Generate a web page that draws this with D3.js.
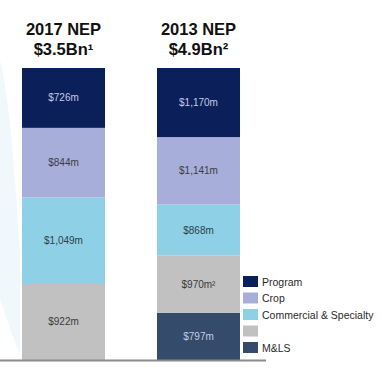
<!DOCTYPE html>
<html>
<head>
<meta charset="utf-8">
<script src="https://cdn.jsdelivr.net/npm/d3@7"></script>
<style>
  body { margin: 0; background: #fff; }
  text { font-family: "Liberation Sans", Arial, sans-serif; }
</style>
</head>
<body>
<div id="chart"></div>
<script>
// data
var categories = ["2017 NEP", "2013 NEP"];
var titles = ["$3.5Bn\u00b9", "$4.9Bn\u00b2"];
var seriesNames = ["Program", "Crop", "Commercial & Specialty", "", "M&LS"];
var seriesKeys = ["program", "crop", "commercial", "other", "mls"];
var program = [726, 1170];
var crop = [844, 1141];
var commercial = [1049, 868];
var other = [922, 970];
var mls = [0, 797];
var labelNotes = { "other": ["", "\u00b2"] };

var colors = {
  program: "#0b1f5b",
  crop: "#a8aeda",
  commercial: "#8ed1e6",
  other: "#c1c1c1",
  mls: "#344b6c"
};
var labelColors = {
  program: "#c3cbe3",
  crop: "#3b3b45",
  commercial: "#2f4048",
  other: "#3a3a3a",
  mls: "#c3cbe3"
};

var width = 388, height = 382;

var rows = categories.map(function(c, i) {
  return { cat: c, program: program[i], crop: crop[i], commercial: commercial[i], other: other[i], mls: mls[i] };
});

var svg = d3.select("#chart").append("svg")
    .attr("width", width)
    .attr("height", height);

// faint decoration on the left edge
svg.append("path")
    .attr("d", "M0,60 C12,110 16,200 20,250 L20,355 C10,330 4,310 0,300 Z")
    .attr("fill", "#f1f8fc");

var x = d3.scaleBand().domain(categories).range([22, 240]).paddingInner(0.385);
var y = d3.scaleLinear().domain([0, 1]).range([360, 68]);

// bottom first
var stack = d3.stack()
    .keys(seriesKeys.slice().reverse())
    .offset(d3.stackOffsetExpand);
var layers = stack(rows);

var fmt = d3.format(",");

var layer = svg.selectAll(".layer")
    .data(layers)
    .enter().append("g")
    .attr("class", "layer");

layer.selectAll("rect")
    .data(function(d) { return d.map(function(p) { p.key = d.key; return p; }); })
    .enter().append("rect")
    .attr("x", function(d) { return x(d.data.cat); })
    .attr("y", function(d) { return y(d[1]); })
    .attr("width", x.bandwidth())
    .attr("height", function(d) { return y(d[0]) - y(d[1]); })
    .attr("fill", function(d) { return colors[d.key]; });

layer.selectAll("text")
    .data(function(d) { return d.filter(function(p) { return p.data[d.key] > 0; }); })
    .enter().append("text")
    .attr("x", function(d) { return x(d.data.cat) + x.bandwidth() / 2; })
    .attr("y", function(d) { return (y(d[0]) + y(d[1])) / 2 + 3.5; })
    .attr("text-anchor", "middle")
    .attr("font-size", "10px")
    .attr("fill", function(d) { return labelColors[d.key]; })
    .text(function(d) {
      var i = categories.indexOf(d.data.cat);
      var note = labelNotes[d.key] ? labelNotes[d.key][i] : "";
      return "$" + fmt(d.data[d.key]) + "m" + note;
    });

// baseline
svg.append("line")
    .attr("x1", 0).attr("x2", 266)
    .attr("y1", 360.5).attr("y2", 360.5)
    .attr("stroke", "#8a8a8a")
    .attr("stroke-width", 2);

// titles
categories.forEach(function(c, i) {
  var t = svg.append("text")
      .attr("text-anchor", "middle")
      .attr("font-size", "16.5px")
      .attr("font-weight", "bold")
      .attr("fill", "#111");
  t.append("tspan").attr("x", x(c) + x.bandwidth() / 2).attr("y", 35).text(c);
  t.append("tspan").attr("x", x(c) + x.bandwidth() / 2).attr("y", 55).text(titles[i]);
});

// legend
var legend = svg.append("g").attr("transform", "translate(243,276)");
var item = legend.selectAll("g")
    .data(seriesKeys)
    .enter().append("g")
    .attr("transform", function(d, i) { return "translate(0," + (i * 16.5) + ")"; });

item.append("rect")
    .attr("width", 15)
    .attr("height", 11)
    .attr("fill", function(d) { return colors[d]; });

item.append("text")
    .attr("x", 19)
    .attr("y", 9.5)
    .attr("font-size", "10.5px")
    .attr("fill", "#2a2a2a")
    .text(function(d, i) { return seriesNames[i]; });
</script>
</body>
</html>
